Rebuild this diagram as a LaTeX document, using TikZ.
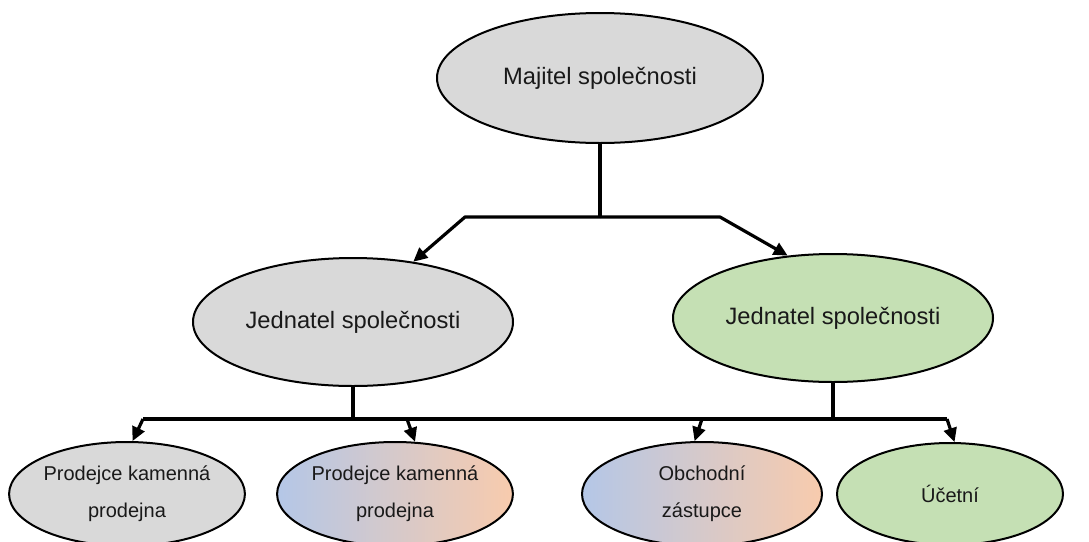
\documentclass[tikz,border=0pt]{standalone}
\usepackage{fontspec}
\setmainfont{Liberation Sans}
\usetikzlibrary{shapes.geometric,arrows.meta}
\definecolor{boxgray}{HTML}{D9D9D9}
\definecolor{boxgreen}{HTML}{C5E0B4}
\definecolor{gradblue}{HTML}{B4C7E7}
\definecolor{gradorange}{HTML}{F8CBAD}
\tikzset{
  oval/.style={ellipse, draw=black, line width=2pt, inner sep=0pt, text=black!90},
  bigtext/.style={font=\fontsize{23.7}{28}\selectfont},
  smalltext/.style={font=\fontsize{20}{37}\selectfont, align=center},
  link/.style={line width=3.2pt, line join=round},
  arr/.style={link, -{Triangle[length=14pt,width=13pt]}}
}
\begin{document}
\begin{tikzpicture}[x=1pt,y=-1pt]
\useasboundingbox (0,0) rectangle (1089,541);
\clip (0,0) rectangle (1089,541);
\fill[white] (0,0) rectangle (1089,541);

% owner
\node[oval, fill=boxgray, bigtext, minimum width=326pt, minimum height=130pt] (maj) at (600,78) {Majitel společnosti};

% managing directors
\node[oval, fill=boxgray, bigtext, minimum width=320pt, minimum height=128pt] (jl) at (353,322) {Jednatel společnosti};
\node[oval, fill=boxgreen, bigtext, minimum width=320pt, minimum height=128pt] (jr) at (833,318) {Jednatel společnosti};

% staff
\node[oval, fill=boxgray, smalltext, minimum width=234pt, minimum height=104pt] (b1) at (127,494) {Prodejce kamenná\\prodejna};
\node[oval, left color=gradblue, right color=gradorange, smalltext, minimum width=234pt, minimum height=104pt] (b2) at (395,494) {Prodejce kamenná\\prodejna};
\node[oval, left color=gradblue, right color=gradorange, smalltext, minimum width=240pt, minimum height=104pt] (b3) at (702,494) {Obchodní\\zástupce};
\node[oval, fill=boxgreen, smalltext, minimum width=226pt, minimum height=102pt] (b4) at (950,494) {Účetní};

% upper connectors
\coordinate (t) at (600,217);
\coordinate (tl) at (465,217);
\coordinate (tr) at (720,217);
\draw[link] (maj.south) -- (t);
\draw[arr] (t) -- (tl) -- (jl.45);
\draw[arr] (t) -- (tr) -- (jr.126);

% lower connectors
\coordinate (hl) at (353,419);
\coordinate (hr) at (833,419);
\coordinate (c1) at (143,419);
\coordinate (c2) at (407,419);
\coordinate (c3) at (702,419);
\coordinate (c4) at (947,419);
\draw[link] (jl.south) -- (hl);
\draw[link] (jr.south) -- (hr);
\draw[link] (c1) -- (c4);
\draw[arr] (c1) -- (b1.84);
\draw[arr] (c2) -- (b2.69);
\draw[arr] (c3) -- (b3.98);
\draw[arr] (c4) -- (b4.85);
\end{tikzpicture}
\end{document}
